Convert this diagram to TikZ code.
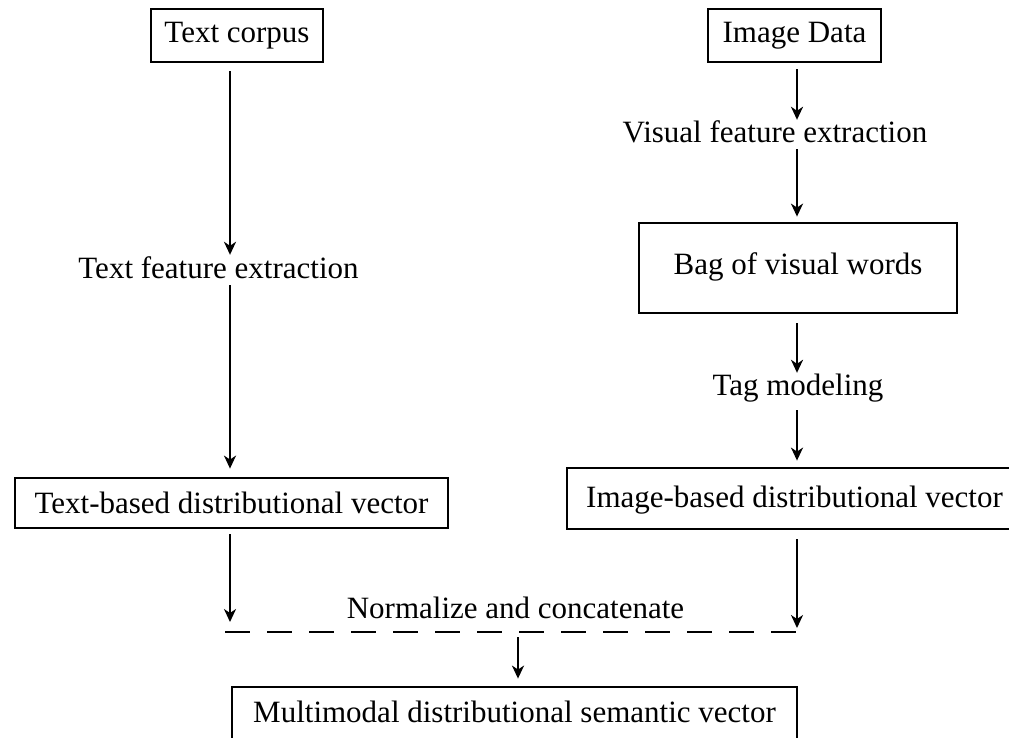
\documentclass[tikz,border=0pt]{standalone}
\usepackage{fontspec}
\setmainfont{Liberation Serif}
\usetikzlibrary{arrows.meta}
\tikzset{
  base/.style={font=\fontsize{31}{37}\selectfont, inner sep=0pt, text depth=7pt},
  boxnode/.style={base, draw, line width=2.8pt, anchor=center},
  lbl/.style={base, text height=21pt, anchor=base},
  arr/.style={line width=2.2pt, -{Stealth[length=13pt,width=12pt,inset=4pt]}},
  dashline/.style={line width=2.8pt, dash pattern=on 25pt off 17pt}
}
\begin{document}
\begin{tikzpicture}[x=1pt,y=-1pt]
\useasboundingbox (0,0) rectangle (1009,737);
\clip (0,0) rectangle (1009,737);
% columns
\coordinate (Lx) at (230,0);
\coordinate (Rx) at (797,0);
\coordinate (Mx) at (518,0);
% boxes
\node[boxnode, minimum width=172pt, minimum height=53pt, text height=20pt] (tc) at (237,35.5) {Text corpus};
\node[boxnode, minimum width=173pt, minimum height=53pt, text height=20pt] (id) at (794.5,35.5) {Image Data};
\node[boxnode, minimum width=318pt, minimum height=90pt, text height=19pt] (bow) at (798,268) {Bag of visual words};
\node[boxnode, minimum width=433pt, minimum height=50pt, text height=27pt] (tb) at (231.5,503) {Text-based distributional vector};
\node[boxnode, minimum width=455pt, minimum height=61pt, text height=24pt] (ib) at (794.5,498.5) {Image-based distributional vector};
\node[boxnode, minimum width=565pt, minimum height=62pt, text height=15pt] (mm) at (514.5,718) {Multimodal distributional semantic vector};
% labels
\node[lbl] (tfe) at (218.5,278) {Text feature extraction};
\node[lbl] (vfe) at (775,142) {Visual feature extraction};
\node[lbl] (tag) at (798,395) {Tag modeling};
\node[lbl] (nc) at (515.5,618) {Normalize and concatenate};
% dashed join line
\coordinate (dl) at (225,632);
\coordinate (dr) at (805,632);
\draw[dashline] (dl) -- (dr);
% left column
\draw[arr, shorten <=8pt, shorten >=2pt] (tc.south -| Lx) -- (tfe.north -| Lx);
\draw[arr, shorten >=8pt] (tfe.south -| Lx) -- (tb.north -| Lx);
\draw[arr, shorten <=5pt, shorten >=10pt] (tb.south -| Lx) -- (dl -| Lx);
% right column
\draw[arr, shorten <=6pt, shorten >=1pt] (id.south -| Rx) -- (vfe.north -| Rx);
\draw[arr, shorten >=5pt] (vfe.south -| Rx) -- (bow.north -| Rx);
\draw[arr, shorten <=9pt, shorten >=1pt] (bow.south -| Rx) -- (tag.north -| Rx);
\draw[arr, shorten <=8pt, shorten >=6pt] (tag.south -| Rx) -- (ib.north -| Rx);
\draw[arr, shorten <=9pt, shorten >=4pt] (ib.south -| Rx) -- (dl -| Rx);
% merge
\draw[arr, shorten <=5pt, shorten >=7pt] (dl -| Mx) -- (mm.north -| Mx);
\end{tikzpicture}
\end{document}
